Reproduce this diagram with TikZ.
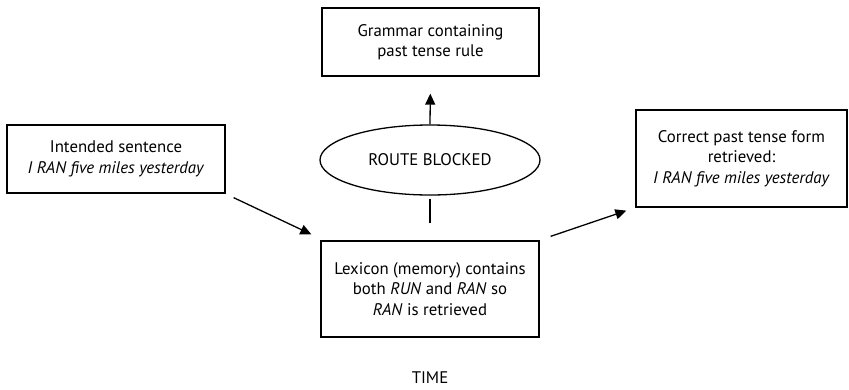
\documentclass[tikz,border=0pt]{standalone}
\usepackage{fontspec}
\setmainfont{PT Sans}
\usetikzlibrary{shapes.geometric,arrows.meta,calc}
\tikzset{
  txt/.style={font=\fontsize{16.8bp}{20.5bp}\selectfont},
  box/.style={txt, draw, line width=1.3bp, align=center, inner sep=0pt},
  oval/.style={txt, draw, ellipse, line width=1.3bp, inner sep=0pt},
  link/.style={line width=1.3bp},
  arr/.style={link, -{Triangle[length=11bp,width=10bp]}}
}
\begin{document}
\begin{tikzpicture}[x=1bp,y=-1bp]
  \useasboundingbox (0,0) rectangle (849,389);
  \node[box, minimum width=218bp, minimum height=68bp] (intended) at (116,159)
    {Intended sentence\\\textit{I RAN five miles yesterday}};
  \node[box, minimum width=217bp, minimum height=68bp] (grammar) at (430.5,42)
    {Grammar containing\\past tense rule};
  \node[oval, minimum width=220bp, minimum height=70bp] (blocked) at (430,160)
    {ROUTE BLOCKED};
  \node[box, minimum width=218bp, minimum height=96bp] (lexicon) at (430,289)
    {Lexicon (memory) contains\\both \textit{RUN} and \textit{RAN} so\\\textit{RAN} is retrieved};
  \node[box, minimum width=211bp, minimum height=97bp] (correct) at (741.5,158.5)
    {Correct past tense form\\retrieved:\\\textit{I RAN five miles yesterday}};
  \node[txt] (time) at (430,378) {TIME};

  \draw[arr] ($(intended.south east)+(8,4)$) -- ($(lexicon.north west)+(-9,-6)$);
  \draw[arr, shorten >=17bp] (blocked.north) -- (grammar.south);
  \draw[link, shorten <=17bp, shorten >=3bp] (lexicon.north) -- (blocked.south);
  \draw[arr] ($(lexicon.north east)+(11,-4)$) -- ($(correct.south west)+(-9,3)$);
\end{tikzpicture}
\end{document}
